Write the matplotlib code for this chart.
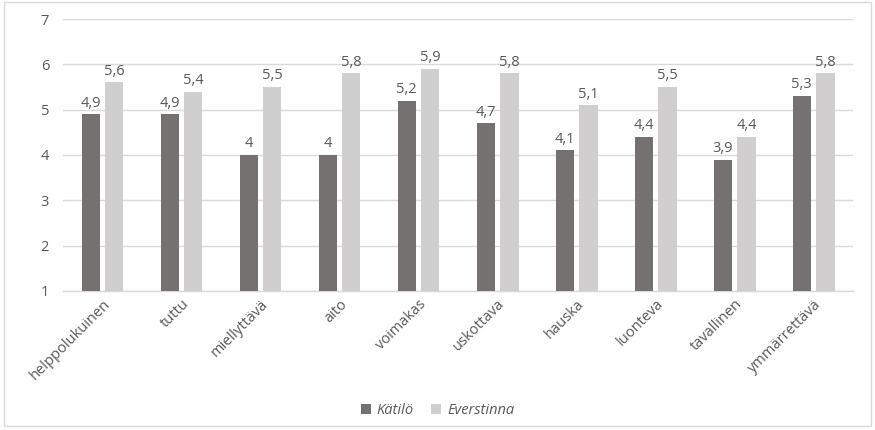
import matplotlib
matplotlib.use("Agg")
import matplotlib.pyplot as plt
import numpy as np
from matplotlib.patches import Rectangle

categories = ["helppolukuinen", "tuttu", "miellyttävä", "aito", "voimakas",
              "uskottava", "hauska", "luonteva", "tavallinen", "ymmärrettävä"]
katilo = [4.9, 4.9, 4.0, 4.0, 5.2, 4.7, 4.1, 4.4, 3.9, 5.3]
everstinna = [5.6, 5.4, 5.5, 5.8, 5.9, 5.8, 5.1, 5.5, 4.4, 5.8]
series_names = ["Kätilö", "Everstinna"]
yticks = [1, 2, 3, 4, 5, 6, 7]

plt.rcParams['font.family'] = ['Open Sans', 'DejaVu Sans']
txt = '#595959'
fs = 10.5

fig = plt.figure(figsize=(8.75, 4.3), dpi=100)
fig.patches.append(Rectangle((0.005, 0.01), 0.99, 0.985, transform=fig.transFigure,
                             fill=False, edgecolor='#d9d9d9', linewidth=1))
ax = fig.add_axes([0.072, 0.3233, 0.903, 0.6325])

x = np.arange(len(categories))
w = 0.23
off = 0.15
b1 = ax.bar(x - off, np.array(katilo) - 1, w, bottom=1, color='#767171', zorder=3, label=series_names[0])
b2 = ax.bar(x + off, np.array(everstinna) - 1, w, bottom=1, color='#d0cece', zorder=3, label=series_names[1])

def fmt(v):
    return ('%g' % v).replace('.', ',')
for xs, vals in ((x - off, katilo), (x + off, everstinna)):
    for xi, v in zip(xs, vals):
        ax.text(xi, v + 0.08, fmt(v), ha='center', va='bottom', fontsize=fs, color=txt)

ax.set_ylim(1, 7)
ax.set_xlim(-0.5, len(categories) - 0.5)
ax.set_yticks(yticks)
ax.set_yticklabels([str(t) for t in yticks])
ax.grid(axis='y', color='#d9d9d9', linewidth=1, zorder=0)
for s in ['top', 'right', 'left']:
    ax.spines[s].set_visible(False)
ax.spines['bottom'].set_color('#d9d9d9')
ax.spines['bottom'].set_linewidth(1)
ax.tick_params(axis='both', length=0, colors=txt, labelsize=fs)
ax.tick_params(axis='y', pad=10)
ax.set_xticks(x)
ax.set_xticklabels(categories, rotation=45, ha='right', rotation_mode='anchor')
ax.tick_params(axis='x', pad=4)

leg = fig.legend(handles=[b1, b2], labels=series_names, loc='center', bbox_to_anchor=(0.5, 0.045),
                 ncol=2, frameon=False, prop={'style': 'italic', 'size': fs},
                 handlelength=0.7, handleheight=0.7, handletextpad=0.4, columnspacing=1.2)
for t in leg.get_texts():
    t.set_color(txt)

fig.savefig("out.png", dpi=100)
